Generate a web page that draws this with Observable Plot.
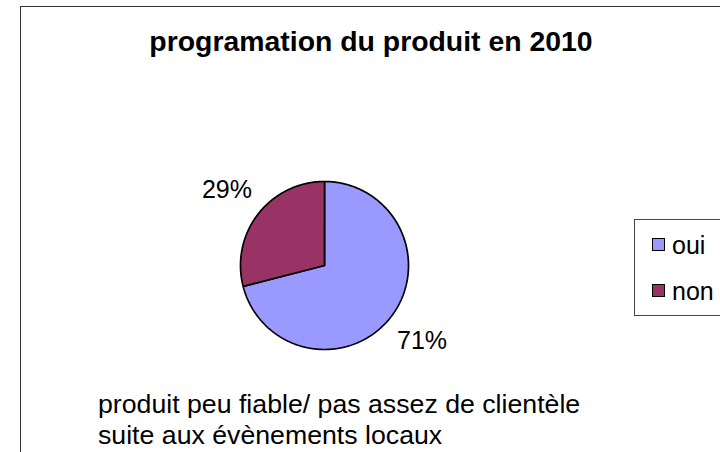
<!DOCTYPE html>
<html>
<head>
<meta charset="utf-8">
<script src="https://cdn.jsdelivr.net/npm/d3@7"></script>
<script src="https://cdn.jsdelivr.net/npm/@observablehq/plot@0.6"></script>
<style>
  html, body { margin: 0; padding: 0; width: 720px; height: 452px; overflow: hidden; background: #fff; }
  body { font-family: "Liberation Sans", Arial, sans-serif; color: #000; }
  #wrap { position: relative; width: 720px; height: 452px; overflow: hidden; }
  #frame { position: absolute; left: 20px; top: 6px; width: 900px; height: 700px; border: 1.5px solid #333; box-sizing: border-box; }
  #chart { position: absolute; left: 0; top: 0; }
  #title { position: absolute; left: 0; width: 742px; top: 27px; text-align: center; font-weight: bold; font-size: 28.4px; line-height: 28px; white-space: nowrap; }
  #caption { position: absolute; left: 98px; top: 389px; font-size: 26.7px; line-height: 31px; white-space: nowrap; }
  #legend { position: absolute; left: 634px; top: 219px; width: 200px; height: 97px; border: 1px solid #444; box-sizing: border-box; }
  .item { position: absolute; left: 17px; height: 30px; white-space: nowrap; }
  .sw { position: absolute; left: 0; width: 13px; height: 13px; border: 1.5px solid #000; box-sizing: border-box; }
  .lab { position: absolute; left: 20px; font-size: 25px; line-height: 30px; }
</style>
</head>
<body>
<div id="wrap">
  <div id="frame"></div>
  <div id="chart"></div>
  <div id="title"></div>
  <div id="caption"></div>
  <div id="legend"></div>
</div>
<script>
// ---- data ----
const titleText = "programation du produit en 2010";
const categories = ["oui", "non"];
const values = [71, 29];
const colors = ["#9999FF", "#993366"];
const captionLines = ["produit peu fiable/ pas assez de clientèle", "suite aux évènements locaux"];

// ---- layout config ----
const W = 720, H = 452;
const cx = 324, cy = 265, R = 84;
const labelRadius = 1.47;

const total = d3.sum(values);
let acc = 0;
const slices = values.map((v, i) => {
  const a0 = acc / total * 2 * Math.PI;
  acc += v;
  const a1 = acc / total * 2 * Math.PI;
  return { cat: categories[i], value: v, a0, a1, mid: (a0 + a1) / 2 };
});

function slicePoints(s) {
  const pts = [{ x: 0, y: 0 }];
  const n = Math.max(2, Math.ceil((s.a1 - s.a0) / (Math.PI / 360)));
  for (let k = 0; k <= n; k++) {
    const a = s.a0 + (s.a1 - s.a0) * k / n;
    pts.push({ x: Math.sin(a), y: Math.cos(a) });
  }
  pts.push({ x: 0, y: 0 });
  return pts;
}

const colorScale = d3.scaleOrdinal(categories, colors);

const marks = slices.map(s => Plot.line(slicePoints(s), {
  x: "x", y: "y",
  fill: colorScale(s.cat),
  stroke: "#000",
  strokeWidth: 1.7,
  strokeLinejoin: "miter",
  curve: "linear"
}));

marks.push(Plot.text(slices, {
  x: d => labelRadius * Math.sin(d.mid),
  y: d => labelRadius * Math.cos(d.mid),
  text: d => Math.round(d.value / total * 100) + "%",
  fontSize: 25,
  fill: "#000",
  fontFamily: "Liberation Sans, Arial, sans-serif"
}));

const plot = Plot.plot({
  width: W,
  height: H,
  margin: 0,
  x: { domain: [-1, 1], range: [cx - R, cx + R], axis: null },
  y: { domain: [-1, 1], range: [cy + R, cy - R], axis: null },
  style: { background: "transparent", fontFamily: "Liberation Sans, Arial, sans-serif" },
  marks
});
document.getElementById("chart").appendChild(plot);

document.getElementById("title").textContent = titleText;
document.getElementById("caption").innerHTML = captionLines.map(l => `<div>${l}</div>`).join("");

const legend = document.getElementById("legend");
categories.forEach((c, i) => {
  const item = document.createElement("div");
  item.className = "item";
  item.style.top = (10 + i * 46) + "px";
  const sw = document.createElement("div");
  sw.className = "sw";
  sw.style.top = "8px";
  sw.style.background = colorScale(c);
  const lab = document.createElement("div");
  lab.className = "lab";
  lab.style.top = "0px";
  lab.textContent = c;
  item.appendChild(sw);
  item.appendChild(lab);
  legend.appendChild(item);
});
</script>
</body>
</html>
